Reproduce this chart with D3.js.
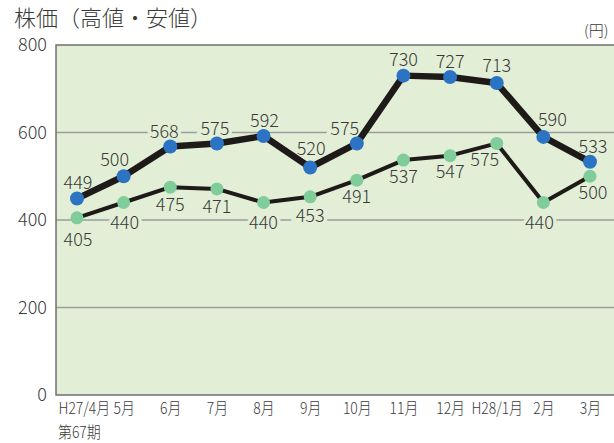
<!DOCTYPE html>
<html>
<head>
<meta charset="utf-8">
<script src="https://cdn.jsdelivr.net/npm/d3@7"></script>
<style>
  body { margin: 0; background: #fff; }
  text { font-family: "Noto Sans CJK JP", "Noto Sans", sans-serif; font-weight: 300; fill: #3a3a3a; }
</style>
</head>
<body>
<script>
// chart data
var months = ["H27/4月", "5月", "6月", "7月", "8月", "9月", "10月", "11月", "12月", "H28/1月", "2月", "3月"];
var highs = [449, 500, 568, 575, 592, 520, 575, 730, 727, 713, 590, 533];
var lows = [405, 440, 475, 471, 440, 453, 491, 537, 547, 575, 440, 500];
var yTicks = [0, 200, 400, 600, 800];

// label nudges (dx, dy) from each dot
var highOffsets = [[1,-16],[-9,-17],[-6,-15],[-2,-15],[1,-15],[1,-19],[-12,-15],[0,-16],[0,-15],[0,-17],[9,-17],[3,-15]];
var lowOffsets = [[1,22],[1,20],[0,18],[0,18],[0,20],[0,19],[0,17],[0,17],[0,16],[-12,16],[-4,20],[3,16]];

var svgWidth = 614, svgHeight = 443;
var plot = {left: 56, top: 45, right: 616, bottom: 395};
var bg = "#e2efd6";
var font = "'Noto Sans CJK JP', sans-serif";
var squeeze = 0.87; // month labels are set in a condensed face

var svg = d3.select("body").append("svg").attr("width", svgWidth).attr("height", svgHeight);

var x = d3.scalePoint().domain(months).range([77, 590]);
var y = d3.scaleLinear().domain([0, 800]).range([plot.bottom, plot.top]);

// plot background
svg.append("rect")
    .attr("x", plot.left).attr("y", plot.top)
    .attr("width", plot.right - plot.left).attr("height", plot.bottom - plot.top)
    .attr("fill", bg);

// grid lines
svg.append("g").selectAll("line")
    .data(yTicks.filter(function(d) { return d > 0 && d < 800; }))
    .enter().append("line")
    .attr("x1", plot.left).attr("x2", plot.right)
    .attr("y1", function(d) { return y(d); }).attr("y2", function(d) { return y(d); })
    .attr("stroke", "#9d9d9d").attr("stroke-width", 1.5);

// frame: top, left, bottom
svg.append("path")
    .attr("d", "M" + plot.right + "," + plot.top + "H" + plot.left + "V" + plot.bottom + "H" + plot.right)
    .attr("fill", "none").attr("stroke", "#707070").attr("stroke-width", 1.5);

// y axis labels
var yAxis = d3.axisLeft(y).tickValues(yTicks).tickSize(0).tickPadding(9);
var yg = svg.append("g").attr("transform", "translate(" + plot.left + ",0)").call(yAxis);
yg.select(".domain").remove();
yg.selectAll("text").attr("font-size", "18px").attr("fill", "#3a3a3a")
    .style("font-family", font).style("font-weight", 300);

// x axis labels
var xAxis = d3.axisBottom(x).tickSize(0).tickPadding(8);
var xg = svg.append("g").attr("transform", "translate(0," + plot.bottom + ")").call(xAxis);
xg.select(".domain").remove();
xg.selectAll("text").attr("font-size", "16px").attr("fill", "#3a3a3a")
    .attr("transform", "scale(" + squeeze + ",1)")
    .style("font-family", font).style("font-weight", 300);
xg.selectAll("text").filter(function(d, i) { return i === 0; })
    .attr("text-anchor", "start").attr("x", (plot.left + 2 - x(months[0])) / squeeze);

svg.append("text")
    .attr("transform", "translate(" + (plot.left + 2) + ",438) scale(" + squeeze + ",1)")
    .attr("font-size", "16px").text("第67期");

// titles
svg.append("text").attr("x", 14).attr("y", 26).attr("font-size", "22px").text("株価（高値・安値）");
svg.append("text").attr("x", 584).attr("y", 36)
    .attr("font-size", "15px").text("(円)");

// label halos (under lines, to break the grid)
function labelData(values, offs) {
  return values.map(function(v, i) {
    return {v: v, x: x(months[i]) + offs[i][0], y: y(v) + offs[i][1]};
  });
}
var allLabels = labelData(highs, highOffsets).concat(labelData(lows, lowOffsets));

svg.append("g").selectAll("text")
    .data(allLabels).enter().append("text")
    .attr("x", function(d) { return d.x; }).attr("y", function(d) { return d.y; })
    .attr("dy", "0.35em").attr("text-anchor", "middle").attr("font-size", "18px")
    .style("fill", bg).attr("stroke", bg).attr("stroke-width", 7)
    .text(function(d) { return d.v; });

// lines
var line = d3.line().x(function(d, i) { return x(months[i]); }).y(function(d) { return y(d); });

svg.append("path").datum(lows).attr("d", line)
    .attr("fill", "none").attr("stroke", "#1e1a18").attr("stroke-width", 4).attr("stroke-linejoin", "round");
svg.append("path").datum(highs).attr("d", line)
    .attr("fill", "none").attr("stroke", "#1e1a18").attr("stroke-width", 6.5).attr("stroke-linejoin", "round");

// dots
svg.append("g").selectAll("circle").data(lows).enter().append("circle")
    .attr("cx", function(d, i) { return x(months[i]); }).attr("cy", function(d) { return y(d); })
    .attr("r", 6.5).attr("fill", "#80cc9a");
svg.append("g").selectAll("circle").data(highs).enter().append("circle")
    .attr("cx", function(d, i) { return x(months[i]); }).attr("cy", function(d) { return y(d); })
    .attr("r", 7).attr("fill", "#2c74c3");

// value labels
svg.append("g").selectAll("text")
    .data(allLabels).enter().append("text")
    .attr("x", function(d) { return d.x; }).attr("y", function(d) { return d.y; })
    .attr("dy", "0.35em").attr("text-anchor", "middle").attr("font-size", "18px")
    .text(function(d) { return d.v; });
</script>
</body>
</html>
